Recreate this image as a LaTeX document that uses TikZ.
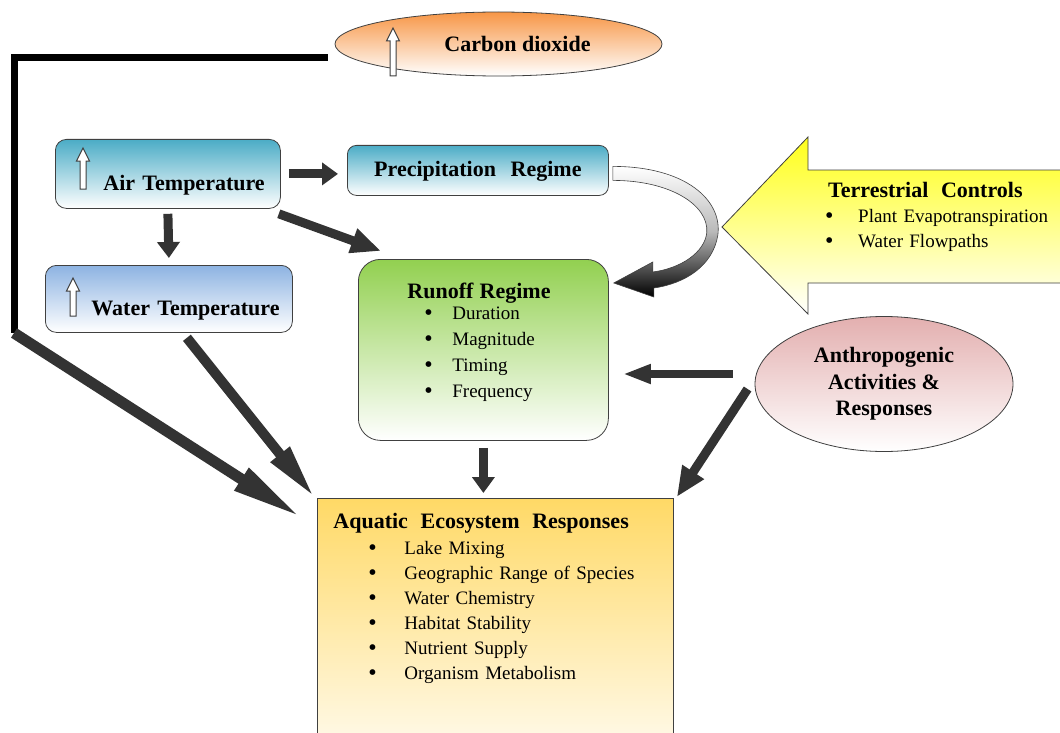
\documentclass[tikz,border=0pt]{standalone}
\usepackage{fontspec}
\setmainfont{Liberation Serif}
\usetikzlibrary{positioning,shapes.geometric,arrows.meta,calc}
\definecolor{ink}      {HTML}{404040}
\definecolor{arrowgray}{HTML}{333333}
\definecolor{airtop}   {HTML}{4BACC6}
\definecolor{watertop} {HTML}{8DB3E2}
\definecolor{runofftop}{HTML}{92D050}
\definecolor{aquatop}  {HTML}{FFD966}
\definecolor{co2top}   {HTML}{F79646}
\definecolor{anthrotop}{HTML}{E3AFAF}
\definecolor{terrtop}  {HTML}{FFFF1A}
\newcommand\titlefont{\bfseries\fontsize{22}{26.5}\selectfont}
\newcommand\itemfont{\fontsize{19}{25}\selectfont}
\newcommand\bul[1]{\makebox[#1][l]{\raisebox{-1pt}{\fontsize{24}{25}\selectfont\textbullet}}}
% hollow up mark: x, tip y, foot y
\newcommand\upmark[3]{%
  \draw[ink, fill=white, line width=1pt]
    (#1-3,#3) -- (#1-3,#2+13) -- (#1-6.5,#2+13) -- (#1,#2) -- (#1+6.5,#2+13)
    -- (#1+3,#2+13) -- (#1+3,#3) -- cycle;}
\tikzset{
  % --- nodes
  box/.style    = {rounded corners=11pt, draw=ink, line width=0.8pt, inner sep=0pt,
                   align=left, anchor=north west, font=\titlefont},
  listbox/.style= {box, font=\itemfont},
  oval/.style   = {ellipse, draw=ink, line width=0.8pt, inner sep=0pt, align=center,
                   font=\titlefont},
  % --- edges
  fat/.style    = {draw=arrowgray, line width=9pt, -{Triangle[length=16pt,width=22pt]}},
  midfat/.style = {fat, -{Triangle[length=30pt,width=24pt]}},
  longfat/.style= {fat, line width=10pt, -{Triangle[length=56pt,width=22pt]}},
}
\begin{document}
\begin{tikzpicture}[x=1pt,y=-1pt]
  \useasboundingbox (0,0) rectangle (1060,733);
  \clip (0,0) rectangle (1060,733);
  \fill[white] (0,0) rectangle (1060,733);

  % --- drivers
  \node[oval, top color=co2top, bottom color=white, minimum width=327pt, minimum height=64pt]
    (co2) at (498.5,44) {\hspace*{38pt}Carbon dioxide};
  \node[box, top color=airtop, bottom color=white, text width=225pt,
        text height=51pt, text depth=18pt] (air) at (55,139)
    {\hspace*{48pt}Air Temperature};
  \node[box, rounded corners=9pt, top color=airtop, bottom color=white, text width=261pt,
        align=center, text height=31pt, text depth=19pt] (precip) at (347,145)
    {Precipitation\ \ Regime};
  \node[box, top color=watertop, bottom color=white, text width=247pt,
        text height=50pt, text depth=17pt] (water) at (45,265)
    {\hspace*{46pt}Water Temperature};
  \node[listbox, rounded corners=22pt, top color=runofftop, bottom color=white, text width=250pt,
        text height=39pt, text depth=142pt] (runoff) at (358,259)
    {\hspace*{49pt}{\titlefont Runoff Regime}\\[-4pt]
     \hspace*{66pt}\bul{28pt}Duration\\[1pt]
     \hspace*{66pt}\bul{28pt}Magnitude\\[1pt]
     \hspace*{66pt}\bul{28pt}Timing\\[1pt]
     \hspace*{66pt}\bul{28pt}Frequency};
  \node[listbox, sharp corners, top color=aquatop, bottom color=white, text width=356pt,
        text height=30pt, text depth=260pt] (aqua) at (317,498)
    {\hspace*{16pt}{\titlefont Aquatic\ \ Ecosystem\ \ Responses}\\[1pt]
     \hspace*{51pt}\bul{36pt}Lake Mixing\\
     \hspace*{51pt}\bul{36pt}Geographic Range of Species\\
     \hspace*{51pt}\bul{36pt}Water Chemistry\\
     \hspace*{51pt}\bul{36pt}Habitat Stability\\
     \hspace*{51pt}\bul{36pt}Nutrient Supply\\
     \hspace*{51pt}\bul{36pt}Organism Metabolism};
  \node[oval, top color=anthrotop, bottom color=white, minimum width=258pt, minimum height=135pt]
    (anthro) at (884,384) {Anthropogenic\\Activities \&\\Responses};

  % --- terrestrial block arrow
  \draw[ink, line width=0.8pt, top color=terrtop, bottom color=white]
    (1070,170) -- (808,170) -- (808,137) -- (722,227) -- (808,314) -- (808,283)
    -- (1070,283) -- cycle;
  \node[anchor=base west, inner sep=0pt, text width=235pt, align=left, font=\itemfont]
    (terr) at (825,197)
    {\hspace*{3pt}{\titlefont Terrestrial\ \ Controls}\\
     \bul{33pt}Plant Evapotranspiration\\
     \bul{33pt}Water Flowpaths};

  % --- increase marks
  \upmark{393}{28}{76}
  \upmark{83}{148}{189}
  \upmark{73}{278}{316}

  % --- carbon dioxide line
  \coordinate (bend) at (14,333);
  \draw[black, line width=7pt] ($(co2.west)+(-7,14)$) -| (bend);
  \draw[longfat, line width=11pt, -{Triangle[length=72pt,width=24pt]}]
    (bend) -- ($(aqua.north west)+(-15,20)$);

  % --- ribbon from precipitation to runoff
  \coordinate (rs) at ($(precip.east)+(4,0)$);
  \coordinate (rt) at ($(runoff.north east)+(5,24)$);
  \draw[ink, line width=0.6pt, top color=white, bottom color=black, middle color=gray!55]
    ($(rs)+(0,-4)$) .. controls ($(rs)+(73,-4)$) and ($(rs)+(110,30)$) .. ($(rs)+(105,65)$)
    .. controls ($(rs)+(100,95)$) and ($(rs)+(73,113)$) .. ($(rt)+(40,5)$)
    -- ($(rt)+(40,14)$) -- (rt) -- ($(rt)+(39,-21)$) -- ($(rt)+(39,-11)$)
    .. controls ($(rs)+(68,98)$) and ($(rs)+(92,82)$) .. ($(rs)+(94,62)$)
    .. controls ($(rs)+(96,35)$) and ($(rs)+(58,10)$) .. ($(rs)+(0,10)$) -- cycle;

  % --- block arrows
  \draw[fat] ([xshift=8pt]air.east) -- ([xshift=-9pt]precip.west |- air.east);
  \draw[fat] ([yshift=-5pt]air.south) -- ([yshift=7pt]water.north);
  \draw[midfat] ($(air.south east)+(-2,5)$) -- ($(runoff.north west)+(23,-8)$);
  \draw[fat] ([yshift=-7pt]runoff.south) -- ([yshift=5pt]runoff.south |- aqua.north);
  \draw[longfat] ($(water.south)+(18,5)$) -- ($(aqua.north west)+(-2,0)$);
  \coordinate (ar) at ($(anthro.west)+(-22,-10)$);
  \draw[fat, line width=8pt, -{Triangle[length=28pt,width=18pt]}]
    (ar) -- ($(runoff.east |- ar)+(14,0)$);
  \draw[midfat] ($(anthro.west)+(-7,5)$) -- ($(aqua.north east)+(3,-1)$);
\end{tikzpicture}
\end{document}
